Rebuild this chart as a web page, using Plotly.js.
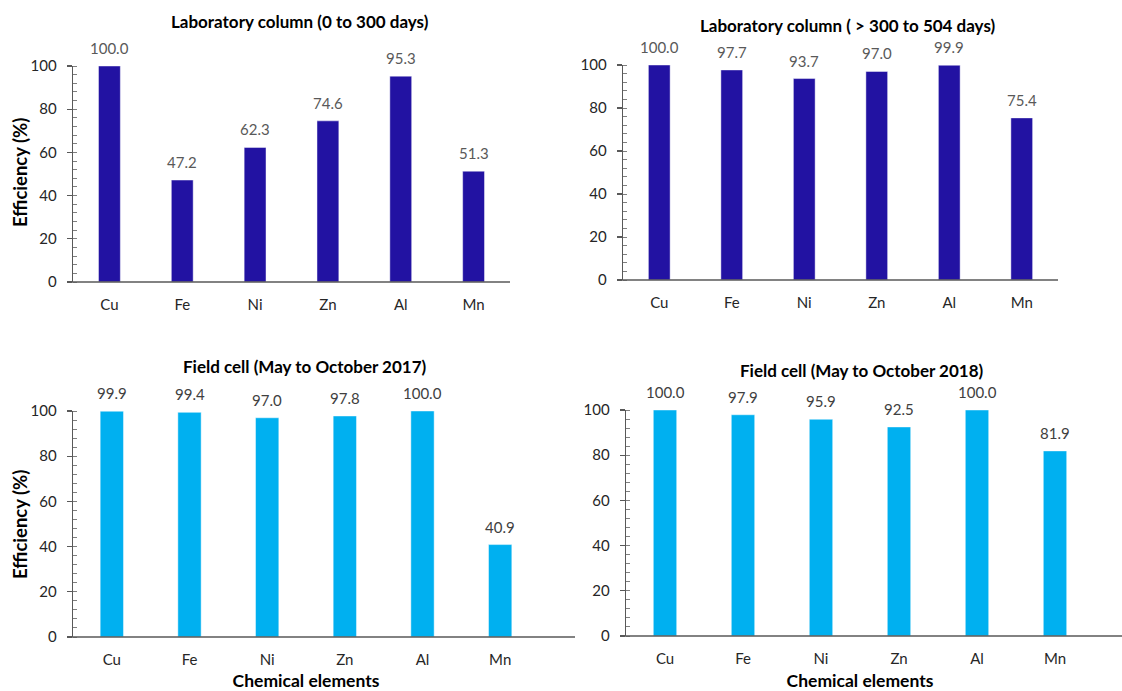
<!DOCTYPE html>
<html>
<head>
<meta charset="utf-8">
<script src="https://cdn.plot.ly/plotly-3.0.1.min.js"></script>
<style>html,body{margin:0;padding:0;background:#fff;}#chart{width:1122px;height:691px;}</style>
</head>
<body>
<div id="chart"></div>
<script>
var elements = ['Cu', 'Fe', 'Ni', 'Zn', 'Al', 'Mn'];
var labColumn0to300 = [100.0, 47.2, 62.3, 74.6, 95.3, 51.3];
var labColumn300to504 = [100.0, 97.7, 93.7, 97.0, 99.9, 75.4];
var fieldCell2017 = [99.9, 99.4, 97.0, 97.8, 100.0, 40.9];
var fieldCell2018 = [100.0, 97.9, 95.9, 92.5, 100.0, 81.9];
var panelTitles = ['Laboratory column (0 to 300 days)', 'Laboratory column ( > 300 to 504 days)',
                   'Field cell (May to October 2017)', 'Field cell (May to October 2018)'];
var yTickVals = [0, 20, 40, 60, 80, 100];
var yTitle = 'Efficiency (%)';
var xTitle = 'Chemical elements';

var FONT = 'Lato, "Open Sans", sans-serif';
var darkBlue = '#2212a2';
var lightBlue = '#00b0f0';

var panels = [
  {vals: labColumn0to300, color: darkBlue, xa: 'x', ya: 'y', lab: '#595959', title: panelTitles[0], tx: 300, ty: 22},
  {vals: labColumn300to504, color: darkBlue, xa: 'x2', ya: 'y2', lab: '#595959', title: panelTitles[1], tx: 848, ty: 25},
  {vals: fieldCell2017, color: lightBlue, xa: 'x3', ya: 'y3', lab: '#404040', title: panelTitles[2], tx: 305, ty: 366},
  {vals: fieldCell2018, color: lightBlue, xa: 'x4', ya: 'y4', lab: '#404040', title: panelTitles[3], tx: 862, ty: 370}
];

var W = 1122, H = 691;
function px(x) { return x / W; }
function py(y) { return 1 - y / H; }

var data = [];
var annotations = [];
panels.forEach(function (p) {
  data.push({
    type: 'bar', x: elements, y: p.vals, xaxis: p.xa, yaxis: p.ya,
    width: 0.3,
    marker: {color: p.color, line: {color: 'rgba(255,255,255,0.45)', width: 1}},
    hoverinfo: 'x+y', showlegend: false
  });
  p.vals.forEach(function (v, i) {
    annotations.push({
      xref: p.xa, yref: p.ya, x: elements[i], y: v, text: v.toFixed(1),
      showarrow: false, yanchor: 'bottom', yshift: 7,
      font: {family: FONT, size: 15, color: p.lab}
    });
  });
  annotations.push({
    xref: 'paper', yref: 'paper', x: px(p.tx), y: py(p.ty), text: '<b>' + p.title + '</b>',
    showarrow: false, xanchor: 'center', yanchor: 'middle',
    font: {family: FONT, size: 17, color: '#000000'}
  });
});

// y-axis titles (left column only)
[[173], [525]].forEach(function (c) {
  annotations.push({
    xref: 'paper', yref: 'paper', x: px(20), y: py(c[0]), text: '<b>' + yTitle + '</b>',
    textangle: -90, showarrow: false, xanchor: 'center', yanchor: 'middle',
    font: {family: FONT, size: 18.5, color: '#000000'}
  });
});

function xaxis(d, withTitle) {
  var a = {
    domain: d, type: 'category', showgrid: false, zeroline: false,
    showline: false,
    ticks: '', ticklabelstandoff: 12,
    tickfont: {family: FONT, size: 15, color: '#262626'},
    fixedrange: true
  };
  if (withTitle) {
    a.title = {text: '<b>' + xTitle + '</b>', font: {family: FONT, size: 17.5, color: '#000'}, standoff: 9};
  }
  return a;
}
function yaxis(d, anchor) {
  return {
    domain: d, anchor: anchor, range: [0, 100], showgrid: false, zeroline: false,
    showline: true, linecolor: '#595959', linewidth: 1.3,
    tickvals: yTickVals, ticks: 'outside', ticklen: 5, tickcolor: '#595959', tickwidth: 1.3,
    ticklabelstandoff: 7,
    minor: {dtick: 4, ticks: 'inside', ticklen: 4, tickcolor: '#7f7f7f', tickwidth: 1},
    tickfont: {family: FONT, size: 15, color: '#262626'},
    fixedrange: true
  };
}

function baseLine(x0, x1, y) {
  return {type: 'line', xref: 'paper', yref: 'paper', x0: px(x0), x1: px(x1), y0: py(y), y1: py(y),
          line: {color: '#595959', width: 1.3}};
}

var layout = {
  width: W, height: H,
  margin: {l: 0, r: 0, t: 0, b: 0},
  paper_bgcolor: '#ffffff', plot_bgcolor: '#ffffff',
  showlegend: false,
  xaxis: Object.assign(xaxis([px(73), px(510)], false), {anchor: 'y'}),
  yaxis: yaxis([py(282), py(66)], 'x'),
  xaxis2: Object.assign(xaxis([px(623), px(1058)], false), {anchor: 'y2'}),
  yaxis2: yaxis([py(280), py(65)], 'x2'),
  xaxis3: Object.assign(xaxis([px(73), px(539)], true), {anchor: 'y3'}),
  yaxis3: yaxis([py(637), py(411)], 'x3'),
  xaxis4: Object.assign(xaxis([px(626), px(1094)], true), {anchor: 'y4'}),
  yaxis4: yaxis([py(636), py(410)], 'x4'),
  annotations: annotations,
  shapes: [
    baseLine(68, 510, 282),
    baseLine(618, 1058, 280),
    baseLine(68, 575, 637),
    baseLine(621, 1122, 636)
  ]
};

Plotly.newPlot('chart', data, layout, {displayModeBar: false, staticPlot: true});
</script>
</body>
</html>
